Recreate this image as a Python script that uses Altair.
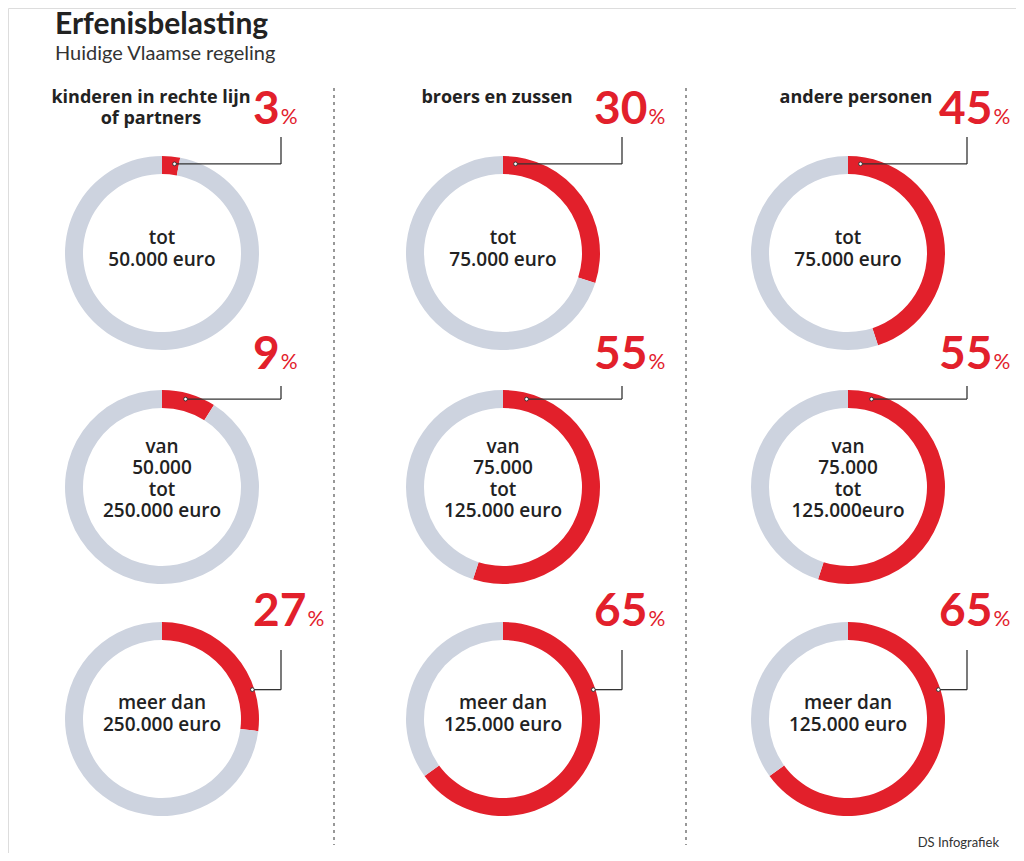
import math
import pandas as pd
import altair as alt

# ---------------- data ----------------
TITLE = "Erfenisbelasting"
SUBTITLE = "Huidige Vlaamse regeling"
SOURCE = "DS Infografiek"

groups = ["kinderen in rechte lijn\nof partners", "broers en zussen", "andere personen"]

rates_children = [3, 9, 27]
rates_siblings = [30, 55, 65]
rates_others = [45, 55, 65]

brackets_children = ["tot\n50.000 euro", "van\n50.000\ntot\n250.000 euro", "meer dan\n250.000 euro"]
brackets_siblings = ["tot\n75.000 euro", "van\n75.000\ntot\n125.000 euro", "meer dan\n125.000 euro"]
brackets_others = ["tot\n75.000 euro", "van\n75.000\ntot\n125.000euro", "meer dan\n125.000 euro"]

rates = [rates_children, rates_siblings, rates_others]
brackets = [brackets_children, brackets_siblings, brackets_others]

# ---------------- layout (page pixel coordinates) ----------------
W, H = 1008, 845
COL_X = [162, 503, 848]
ROW_Y = [253, 487, 719]
LABEL_SHIFT = [4, 8, 5]
LABEL_LH = 21.5
HEADER_X = [151, 497, 856]
HEADER_Y = 103
R_OUT, R_IN = 97, 79
NUM_DX = 91
NUM_SIZE = 46
DIGIT_W = 26.7
NUM_BASE = [124, 369, 626]
CALLOUT_TOP = [137, 386, 650]
CALLOUT_ANGLE = [8, 15, 72]
CALLOUT_R = [90, 91, 95]
CORNER_DX = 119
SEP_X = [334, 686]

RED = "#e2202b"
GRAY = "#cdd3df"
DARK = "#222222"

XS = alt.Scale(domain=[8, 8 + W], nice=False, zero=False)
YS = alt.Scale(domain=[8, 8 + H], nice=False, zero=False, reverse=True)


def X(f):
    return alt.X(f, type="quantitative", scale=XS, axis=None)


def Y(f):
    return alt.Y(f, type="quantitative", scale=YS, axis=None)


arc_rows, label_rows, num_rows, pct_rows = [], [], [], []
hseg, vseg, dots = [], [], []
for c in range(3):
    for r in range(3):
        cx, cy = COL_X[c], ROW_Y[r]
        v = rates[c][r]
        arc_rows.append(dict(cx=cx, cy=cy, start=0, end=v, part="rate"))
        arc_rows.append(dict(cx=cx, cy=cy, start=v, end=100, part="rest"))
        txt = brackets[c][r]
        n = txt.count("\n") + 1
        label_rows.append(dict(x=cx, y=cy - LABEL_SHIFT[r] - (n - 1) * LABEL_LH / 2, text=txt))
        nx = cx + NUM_DX
        num_rows.append(dict(x=nx, y=NUM_BASE[r], text=str(v)))
        pct_rows.append(dict(x=nx + len(str(v)) * DIGIT_W + 1, y=NUM_BASE[r], text="%"))
        a = math.radians(CALLOUT_ANGLE[r])
        dx = cx + CALLOUT_R[r] * math.sin(a)
        dy = cy - CALLOUT_R[r] * math.cos(a)
        corner = cx + CORNER_DX
        hseg.append(dict(x=dx, x2=corner, y=dy))
        vseg.append(dict(x=corner, y=CALLOUT_TOP[r], y2=dy))
        dots.append(dict(x=dx, y=dy))

arcs = alt.Chart(pd.DataFrame(arc_rows)).mark_arc(radius=R_OUT, radius2=R_IN).encode(
    x=X("cx"), y=Y("cy"),
    theta=alt.Theta("start:Q", scale=alt.Scale(domain=[0, 100], range=[0, 2 * math.pi])),
    theta2="end:Q",
    color=alt.Color("part:N", scale=alt.Scale(domain=["rate", "rest"], range=[RED, GRAY]), legend=None),
)

labels = alt.Chart(pd.DataFrame(label_rows)).mark_text(
    font="Open Sans", fontSize=19, fontWeight=600, color=DARK, align="center",
    baseline="middle", lineBreak="\n", lineHeight=LABEL_LH,
).encode(x=X("x"), y=Y("y"), text="text:N")

nums = alt.Chart(pd.DataFrame(num_rows)).mark_text(
    font="Lato", fontSize=NUM_SIZE, fontWeight="bold", color=RED, align="left", baseline="alphabetic",
).encode(x=X("x"), y=Y("y"), text="text:N")

pcts = alt.Chart(pd.DataFrame(pct_rows)).mark_text(
    font="Lato", fontSize=21, color=RED, align="left", baseline="alphabetic",
).encode(x=X("x"), y=Y("y"), text="text:N")

hlines = alt.Chart(pd.DataFrame(hseg)).mark_rule(color="#333333", strokeWidth=1.3).encode(
    x=X("x"), x2="x2:Q", y=Y("y"))
vlines = alt.Chart(pd.DataFrame(vseg)).mark_rule(color="#333333", strokeWidth=1.3).encode(
    x=X("x"), y=Y("y"), y2="y2:Q")
dotmarks = alt.Chart(pd.DataFrame(dots)).mark_point(
    filled=True, fill="white", stroke="#333333", strokeWidth=1, size=14, shape="circle", opacity=1,
).encode(x=X("x"), y=Y("y"))

seps = alt.Chart(pd.DataFrame(dict(x=SEP_X, y=[88, 88], y2=[845, 845]))).mark_rule(
    color="#777777", strokeWidth=1.5, strokeDash=[3, 4]).encode(x=X("x"), y=Y("y"), y2="y2:Q")

headers = alt.Chart(pd.DataFrame(dict(x=HEADER_X, y=[HEADER_Y] * 3, text=groups))).mark_text(
    font="Open Sans", fontSize=18, fontWeight="bold", color=DARK, align="center",
    baseline="alphabetic", lineBreak="\n", lineHeight=21,
).encode(x=X("x"), y=Y("y"), text="text:N")

title = alt.Chart(pd.DataFrame(dict(x=[55], y=[34], text=[TITLE]))).mark_text(
    font="Lato", fontSize=30, fontWeight="bold", color=DARK, align="left", baseline="alphabetic",
).encode(x=X("x"), y=Y("y"), text="text:N")

subtitle = alt.Chart(pd.DataFrame(dict(x=[55], y=[60], text=[SUBTITLE]))).mark_text(
    font="Lato", fontSize=20, color="#333333", align="left", baseline="alphabetic",
).encode(x=X("x"), y=Y("y"), text="text:N")

source = alt.Chart(pd.DataFrame(dict(x=[999], y=[847], text=[SOURCE]))).mark_text(
    font="Lato", fontSize=13, color="#333333", align="right", baseline="alphabetic",
).encode(x=X("x"), y=Y("y"), text="text:N")

chart = alt.layer(
    seps, arcs, hlines, vlines, dotmarks, labels, nums, pcts, headers, title, subtitle, source
).properties(
    width=W, height=H, autosize="none", padding=0
).configure_view(stroke=None).configure(background="white")

chart.save("out.html", embed_options={"renderer": "svg", "actions": False})
